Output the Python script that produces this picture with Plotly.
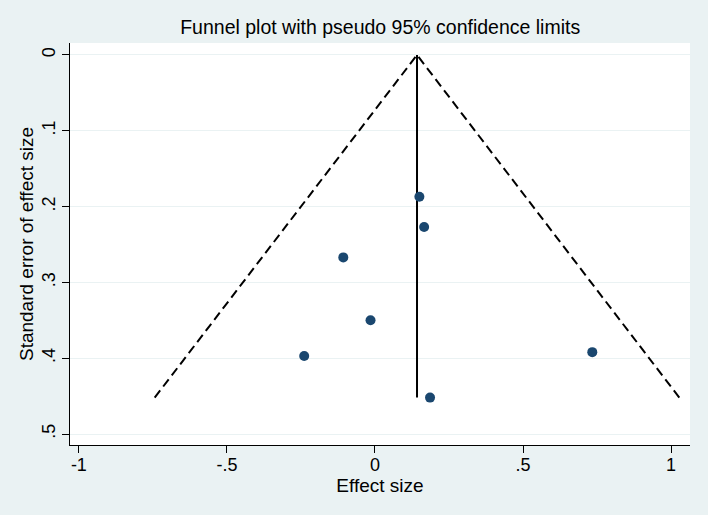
import plotly.graph_objects as go

# Data
effect = [0.150, 0.166, -0.107, -0.015, -0.239, 0.734, 0.186]
se = [0.187, 0.227, 0.267, 0.350, 0.397, 0.392, 0.452]
pooled = 0.142
max_se = 0.452
z = 1.96

x_ticks = [-1, -0.5, 0, 0.5, 1]
x_labels = ["-1", "-.5", "0", ".5", "1"]
y_ticks = [0, 0.1, 0.2, 0.3, 0.4, 0.5]
y_labels = ["0", ".1", ".2", ".3", ".4", ".5"]

fig = go.Figure()
fig.add_trace(go.Scatter(
    x=[pooled - z * max_se, pooled, pooled + z * max_se],
    y=[max_se, 0, max_se],
    mode="lines", line=dict(color="black", width=2, dash="9px,5px"),
    hoverinfo="skip", showlegend=False))
fig.add_trace(go.Scatter(
    x=[pooled, pooled], y=[0, max_se],
    mode="lines", line=dict(color="black", width=2),
    hoverinfo="skip", showlegend=False))
fig.add_trace(go.Scatter(
    x=effect, y=se, mode="markers",
    marker=dict(color="#1a476f", size=10),
    showlegend=False))

font = "Liberation Sans, Arial, sans-serif"
fig.update_layout(
    width=708, height=515,
    margin=dict(l=70, r=18, t=43, b=70),
    paper_bgcolor="#eaf2f3", plot_bgcolor="white",
    font=dict(family=font, color="black", size=18),
    title=dict(text="Funnel plot with pseudo 95% confidence limits",
               x=0.537, xanchor="center", y=0.947, yanchor="middle",
               font=dict(size=19.5, color="black")),
)
fig.update_xaxes(
    range=[-1.03, 1.064], tickvals=x_ticks, ticktext=x_labels,
    showgrid=False, zeroline=False, showline=True, linecolor="black",
    linewidth=1, ticks="outside", ticklen=7, tickcolor="black",
    ticklabelstandoff=-4,
    title=dict(text="Effect size", standoff=0, font=dict(size=19)),
    tickfont=dict(size=18))
fig.update_yaxes(
    range=[0.5145, -0.0158], tickvals=y_ticks, ticktext=y_labels,
    showgrid=True, gridcolor="#eaf2f3", gridwidth=1,
    zeroline=False, showline=True, linecolor="black", linewidth=1,
    ticks="outside", ticklen=7, tickcolor="black", tickangle=-90,
    title=dict(text="Standard error of effect size", standoff=0, font=dict(size=19)),
    tickfont=dict(size=18))

fig.write_html("out.html", config={"displayModeBar": False},
               post_script="document.body.style.margin='0';document.body.style.overflow='hidden';")
